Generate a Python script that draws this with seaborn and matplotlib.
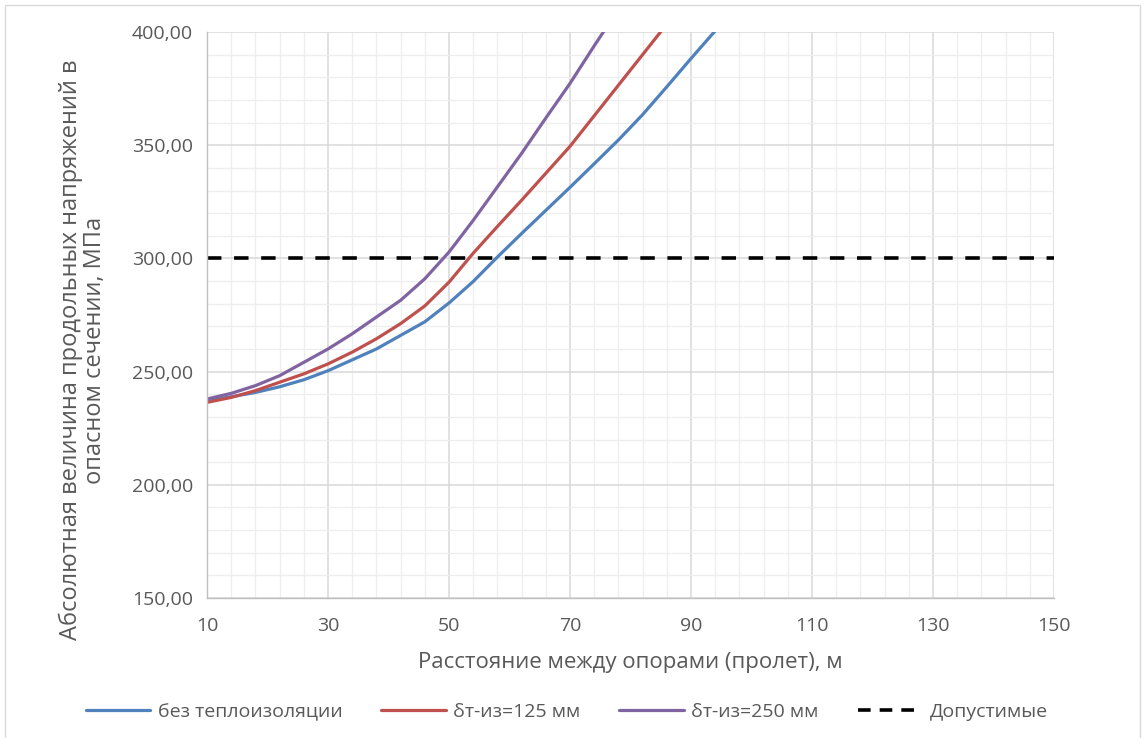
import pandas as pd
import matplotlib.pyplot as plt
import seaborn as sns
from matplotlib.ticker import MultipleLocator, FuncFormatter
from matplotlib.patches import Rectangle

# span between supports, m
span = [10, 14, 18, 22, 26, 30, 34, 38, 42, 46, 50, 54, 58, 62, 66, 70, 74, 78, 82, 86, 90, 94, 98]
no_insul = [237.1, 238.9, 240.8, 243.3, 246.4, 250.4, 255.2, 260.0, 266.0, 272.0, 280.3,
            289.8, 300.6, 311.0, 321.2, 331.4, 341.8, 352.3, 363.5, 375.8, 388.3, 400.5, 413.0]
insul_125 = [236.4, 238.6, 241.6, 245.3, 249.0, 253.4, 258.6, 264.5, 271.2, 279.0, 289.5,
             302.3, 314.1, 325.7, 337.6, 349.5, 363.0, 376.5, 390.0, 403.5, 417.0, 431.0, 445.0]
insul_250 = [237.9, 240.4, 243.8, 248.2, 254.1, 260.0, 266.7, 274.1, 281.5, 291.0, 302.8,
             316.8, 331.6, 346.4, 362.0, 377.3, 393.9, 410.0, 426.0, 442.0, 458.0, 474.0, 490.0]
limit_x = [10, 150]
limit_y = [300, 300]

names = ["без теплоизоляции", "δт-из=125 мм", "δт-из=250 мм"]
colors = ["#4F81BD", "#C0504D", "#8064A2"]

df = pd.DataFrame({"span": span, names[0]: no_insul, names[1]: insul_125, names[2]: insul_250})
long_df = df.melt(id_vars="span", var_name="series", value_name="stress")

sns.set_style("white")
plt.rcParams['font.family'] = ['Open Sans', 'DejaVu Sans']

fig = plt.figure(figsize=(11.45, 7.38), dpi=100)
ax = fig.add_axes([0.1808, 0.1897, 0.7397, 0.7669])

sns.lineplot(data=long_df, x="span", y="stress", hue="series", hue_order=names,
             palette=colors, linewidth=2.3, ax=ax, legend=False)
for line in ax.lines:
    line.set_solid_joinstyle("round")
ax.plot(limit_x, limit_y, color="black", linestyle=(0, (4, 3.5)), linewidth=2.6)

ax.set_xlim(10, 150)
ax.set_ylim(150, 400)
ax.xaxis.set_major_locator(MultipleLocator(20, offset=10))
ax.xaxis.set_minor_locator(MultipleLocator(4, offset=2))
ax.yaxis.set_major_locator(MultipleLocator(50))
ax.yaxis.set_minor_locator(MultipleLocator(10))
ax.yaxis.set_major_formatter(FuncFormatter(lambda v, p: f"{v:.2f}".replace(".", ",")))
ax.xaxis.set_major_formatter(FuncFormatter(lambda v, p: f"{v:.0f}"))

ax.grid(which="major", color="#d9d9d9", linewidth=1.1)
ax.grid(which="minor", color="#eeeeee", linewidth=0.9)
ax.set_axisbelow(True)

for s in ["top", "right"]:
    ax.spines[s].set_visible(False)
for s in ["left", "bottom"]:
    ax.spines[s].set_color("#bfbfbf")
    ax.spines[s].set_linewidth(1.0)

ax.tick_params(axis="both", which="major", length=5, color="#bfbfbf", width=1,
               labelsize=14, labelcolor="#595959", direction="out", pad=5)
ax.tick_params(axis="both", which="minor", length=0)
ax.tick_params(axis="x", pad=9)

ax.set_xlabel("Расстояние между опорами (пролет), м", fontsize=16, color="#595959",
              labelpad=12)
ax.set_ylabel("")
fig.text(83 / 1145, 1 - 350 / 738,
         "Абсолютная величина продольных напряжений в\nопасном сечении, МПа",
         rotation=90, ha="center", va="center", fontsize=17, color="#595959",
         linespacing=1.0, multialignment="center")

handles = [plt.Line2D([], [], color=c, linewidth=2.3) for c in colors]
handles.append(plt.Line2D([], [], color="black", linestyle=(0, (3.5, 2.5)), linewidth=2.6))
fig.legend(handles, names + ["Допустимые"], loc="center", bbox_to_anchor=(0.495, 0.035),
           ncol=4, frameon=False, handlelength=3.3, columnspacing=2.0, handletextpad=0.4,
           prop={"size": 14}, labelcolor="#595959")

fig.patches.append(Rectangle((0.004, -0.01), 0.992, 1.003, transform=fig.transFigure,
                             fill=False, edgecolor="#d9d9d9", linewidth=1))

fig.savefig("out.png", dpi=100)
